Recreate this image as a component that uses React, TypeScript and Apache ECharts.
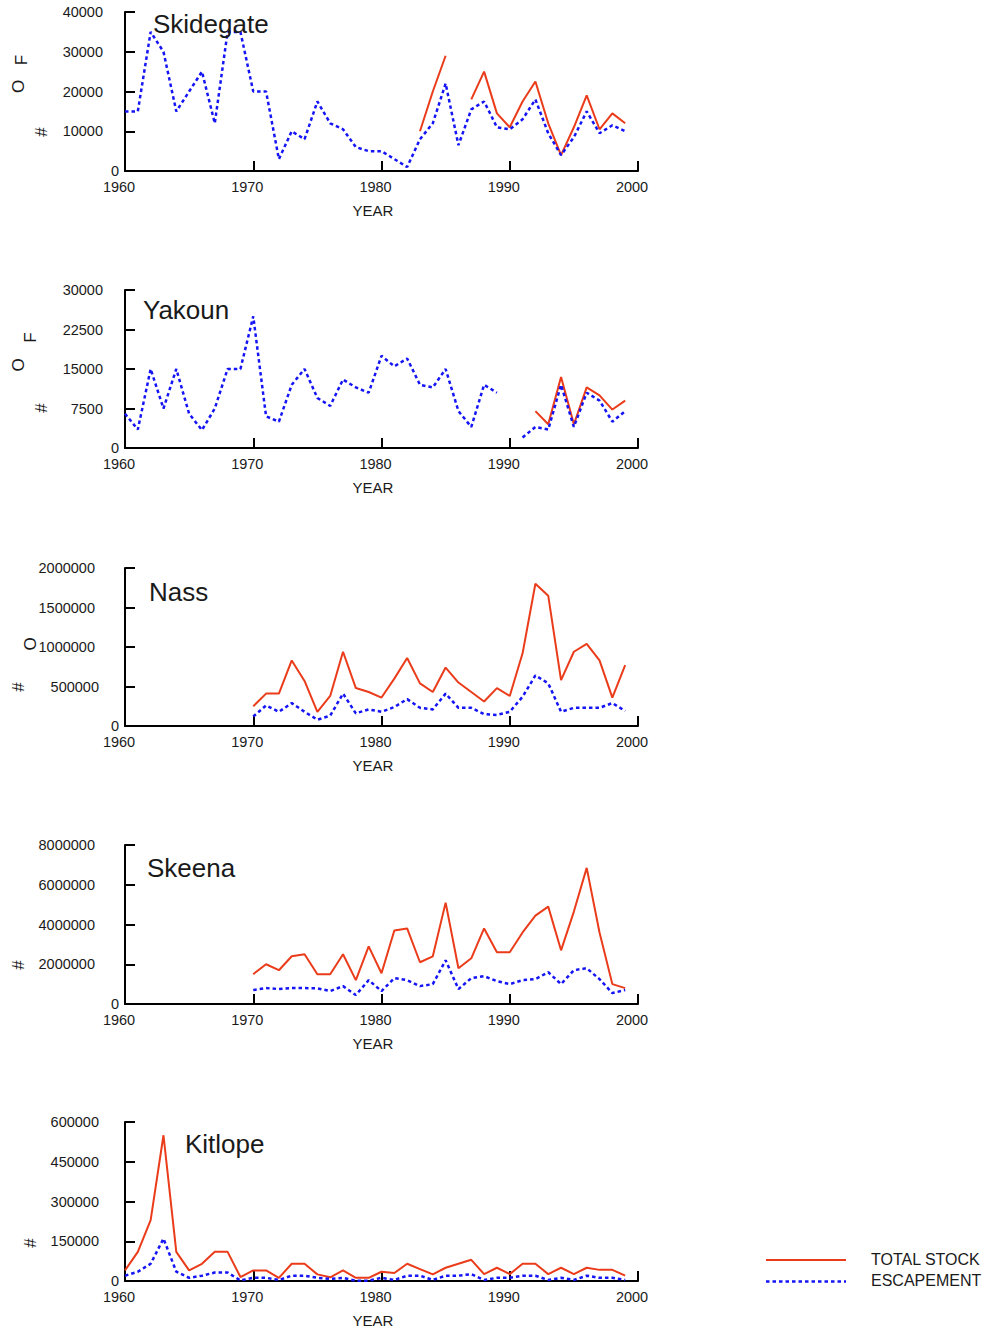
import React, { useEffect, useRef } from 'react';
import * as echarts from 'echarts';

const YEARS = [
  1960, 1961, 1962, 1963, 1964, 1965, 1966, 1967, 1968, 1969,
  1970, 1971, 1972, 1973, 1974, 1975, 1976, 1977, 1978, 1979,
  1980, 1981, 1982, 1983, 1984, 1985, 1986, 1987, 1988, 1989,
  1990, 1991, 1992, 1993, 1994, 1995, 1996, 1997, 1998, 1999,
];
const X_TICKS = [1960, 1970, 1980, 1990, 2000];
const N = null;

// Skidegate
const SKIDEGATE_TOTAL = [
  N, N, N, N, N, N, N, N, N, N,
  N, N, N, N, N, N, N, N, N, N,
  N, N, N, 10000, 20000, 29000, N, 18000, 25000, 14500,
  11000, 17500, 22500, 12000, 4000, 11000, 19000, 10500, 14500, 12000,
];
const SKIDEGATE_ESC = [
  15000, 15000, 35000, 30000, 15000, 20000, 25000, 12000, 35000, 35000,
  20000, 20000, 3000, 10000, 8000, 17500, 12000, 10500, 6000, 5000,
  5000, 3000, 1000, 8000, 12000, 22000, 6500, 15500, 17500, 11000,
  10500, 13000, 18000, 9500, 4000, 8500, 15000, 9500, 11500, 10000,
];

// Yakoun
const YAKOUN_TOTAL = [
  N, N, N, N, N, N, N, N, N, N,
  N, N, N, N, N, N, N, N, N, N,
  N, N, N, N, N, N, N, N, N, N,
  N, N, 7000, 4500, 13500, 4500, 11500, 10000, 7300, 9000,
];
const YAKOUN_ESC = [
  6500, 3500, 15000, 7500, 15000, 6500, 3400, 7500, 15000, 15000,
  25000, 6000, 5000, 12000, 15000, 9500, 8000, 13000, 11500, 10500,
  17500, 15500, 17000, 12000, 11500, 15000, 7000, 4000, 12000, 10500,
  N, 2000, 4000, 3500, 12000, 4000, 10500, 9000, 5000, 7000,
];

// Nass
const NASS_TOTAL = [
  N, N, N, N, N, N, N, N, N, N,
  250000, 410000, 410000, 830000, 570000, 180000, 380000, 940000, 480000, 430000,
  360000, 600000, 860000, 540000, 430000, 740000, 550000, 430000, 310000, 480000,
  380000, 920000, 1800000, 1650000, 580000, 940000, 1040000, 830000, 360000, 770000,
];
const NASS_ESC = [
  N, N, N, N, N, N, N, N, N, N,
  120000, 260000, 180000, 290000, 180000, 80000, 130000, 410000, 160000, 210000,
  180000, 240000, 340000, 230000, 210000, 410000, 230000, 230000, 150000, 140000,
  180000, 370000, 640000, 540000, 180000, 230000, 230000, 230000, 290000, 190000,
];

// Skeena
const SKEENA_TOTAL = [
  N, N, N, N, N, N, N, N, N, N,
  1500000, 2000000, 1700000, 2400000, 2500000, 1500000, 1500000, 2500000, 1200000, 2900000,
  1550000, 3700000, 3800000, 2100000, 2400000, 5100000, 1800000, 2300000, 3800000, 2600000,
  2600000, 3600000, 4450000, 4900000, 2700000, 4650000, 6850000, 3600000, 1000000, 800000,
];
const SKEENA_ESC = [
  N, N, N, N, N, N, N, N, N, N,
  700000, 800000, 750000, 800000, 800000, 790000, 650000, 900000, 450000, 1200000,
  650000, 1300000, 1200000, 900000, 1000000, 2200000, 750000, 1300000, 1400000, 1150000,
  1000000, 1200000, 1250000, 1600000, 1000000, 1700000, 1800000, 1250000, 550000, 700000,
];

// Kitlope
const KITLOPE_TOTAL = [
  40000, 110000, 230000, 550000, 110000, 40000, 65000, 110000, 110000, 15000,
  40000, 40000, 12000, 65000, 65000, 25000, 14000, 40000, 12000, 12000,
  35000, 30000, 65000, 45000, 25000, 50000, 65000, 80000, 26000, 50000,
  26000, 65000, 65000, 26000, 50000, 26000, 50000, 42000, 42000, 20000,
];
const KITLOPE_ESC = [
  20000, 35000, 65000, 160000, 35000, 12000, 20000, 32000, 32000, 2000,
  12000, 12000, 4000, 20000, 20000, 12000, 8000, 12000, 1000, 1000,
  12000, 4000, 20000, 20000, 4000, 20000, 20000, 26000, 4000, 12000,
  12000, 20000, 20000, 4000, 12000, 4000, 20000, 12000, 12000, 4000,
];

const Y_MAX = [40000, 30000, 2000000, 8000000, 600000];
const Y_INTERVAL = [10000, 7500, 500000, 2000000, 150000];
const TITLES = ['Skidegate', 'Yakoun', 'Nass', 'Skeena', 'Kitlope'];
const TOTALS = [SKIDEGATE_TOTAL, YAKOUN_TOTAL, NASS_TOTAL, SKEENA_TOTAL, KITLOPE_TOTAL];
const ESCS = [SKIDEGATE_ESC, YAKOUN_ESC, NASS_ESC, SKEENA_ESC, KITLOPE_ESC];
const LEGEND = ['TOTAL STOCK', 'ESCAPEMENT'];

// layout
const GRID_TOP = [12, 290, 568, 845, 1122];
const GRID_H = [159, 158, 158, 159, 159];
const TITLE_POS = [[153, 23.5], [143, 309.5], [149, 591.5], [147, 867.5], [185, 1144]];
const YNAME_POS: [string, number, number][][] = [
  [['#', 41, 132], ['O', 18.5, 86.5], ['F', 21.5, 60]],
  [['#', 41, 408], ['O', 18.5, 365], ['F', 30, 337.5]],
  [['O', 30, 644], ['#', 18.5, 687]],
  [['#', 18.5, 965]],
  [['#', 30, 1243]],
];

const RED = '#ea3c1a';
const BLUE = '#1414f5';
const TXT = '#1a1a1a';
const FONT = '"Liberation Sans", Arial, sans-serif';

const toData = (vals: (number | null)[]) =>
  YEARS.map((y, i) => [y, vals[i] == null ? '-' : vals[i]]);

export default function App() {
  const ref = useRef<HTMLDivElement>(null);
  useEffect(() => {
    if (!ref.current) return;
    const chart = echarts.init(ref.current, null, { renderer: 'svg' });

    const grid: any[] = [];
    const xAxis: any[] = [];
    const yAxis: any[] = [];
    const series: any[] = [];
    const graphic: any[] = [];

    const yRich: any = {};
    const padFor: Record<number, number> = { 1: 0, 2: 4, 3: 8, 4: 16, 5: 16, 6: 20, 7: 24 };
    Object.keys(padFor).forEach((k) => {
      yRich['p' + k] = {
        fontSize: 14.5, color: TXT, fontFamily: FONT,
        padding: [0, padFor[Number(k)], 0, 0],
      };
    });

    for (let i = 0; i < 5; i++) {
      grid.push({ left: 125, width: 513, top: GRID_TOP[i], height: GRID_H[i], containLabel: false });
      xAxis.push({
        type: 'value', gridIndex: i, min: 1960, max: 2000, interval: 10,
        name: 'YEAR', nameLocation: 'middle', nameGap: 32,
        nameTextStyle: { fontSize: 15, color: TXT, fontFamily: FONT, padding: [0, 17, 0, 0] },
        axisLine: { show: true, onZero: false, lineStyle: { color: '#000', width: 2 } },
        axisTick: { show: true, inside: true, length: 10, lineStyle: { color: '#000', width: 2 } },
        splitLine: { show: false },
        axisLabel: {
          margin: 8.5,
          formatter: (v: number) => (X_TICKS.includes(v) ? `{a|${v}}` : ''),
          rich: { a: { fontSize: 14.5, color: TXT, fontFamily: FONT, padding: [0, 12, 0, 0] } },
        },
      });
      yAxis.push({
        type: 'value', gridIndex: i, min: 0, max: Y_MAX[i], interval: Y_INTERVAL[i],
        axisLine: { show: true, onZero: false, lineStyle: { color: '#000', width: 2 } },
        axisTick: { show: true, inside: true, length: 10, lineStyle: { color: '#000', width: 2 } },
        splitLine: { show: false },
        axisLabel: {
          margin: 6,
          formatter: (v: number) => {
            const s = String(v);
            return `{p${s.length}|${s}}`;
          },
          rich: yRich,
        },
      });
      series.push({
        type: 'line', name: LEGEND[0], xAxisIndex: i, yAxisIndex: i,
        data: toData(TOTALS[i]), symbol: 'none', showSymbol: false, connectNulls: false,
        lineStyle: { color: RED, width: 2 }, itemStyle: { color: RED }, z: 2,
      });
      series.push({
        type: 'line', name: LEGEND[1], xAxisIndex: i, yAxisIndex: i,
        data: toData(ESCS[i]), symbol: 'none', showSymbol: false, connectNulls: false,
        lineStyle: { color: BLUE, width: 2.5, type: [3.5, 3] }, itemStyle: { color: BLUE }, z: 3,
      });
      graphic.push({
        type: 'text', x: TITLE_POS[i][0], y: TITLE_POS[i][1],
        style: {
          text: TITLES[i], fontSize: 26, fill: TXT, fontFamily: FONT,
          textAlign: 'left', textVerticalAlign: 'middle',
        },
        z: 10,
      });
      YNAME_POS[i].forEach(([t, x, y]) => {
        graphic.push({
          type: 'text', x, y, rotation: Math.PI / 2,
          style: {
            text: t, fontSize: 17, fill: TXT, fontFamily: FONT,
            textAlign: 'center', textVerticalAlign: 'middle',
          },
        });
      });
    }

    // legend
    graphic.push({
      type: 'line', shape: { x1: 766, y1: 1260, x2: 846, y2: 1260 },
      style: { stroke: RED, lineWidth: 2 },
    });
    graphic.push({
      type: 'line', shape: { x1: 766, y1: 1281.5, x2: 846, y2: 1281.5 },
      style: { stroke: BLUE, lineWidth: 2.5, lineDash: [3.5, 3] },
    });
    graphic.push({
      type: 'text', x: 871, y: 1259,
      style: { text: LEGEND[0], fontSize: 16, fill: TXT, fontFamily: FONT, textAlign: 'left', textVerticalAlign: 'middle' },
    });
    graphic.push({
      type: 'text', x: 871, y: 1280.5,
      style: { text: LEGEND[1], fontSize: 16, fill: TXT, fontFamily: FONT, textAlign: 'left', textVerticalAlign: 'middle' },
    });

    chart.setOption({
      animation: false,
      backgroundColor: '#ffffff',
      textStyle: { fontFamily: FONT },
      grid, xAxis, yAxis, series, graphic,
    });
    return () => chart.dispose();
  }, []);

  return (
    <div
      ref={ref}
      style={{ position: 'absolute', left: 0, top: 0, width: 987, height: 1331, background: '#fff' }}
    />
  );
}
